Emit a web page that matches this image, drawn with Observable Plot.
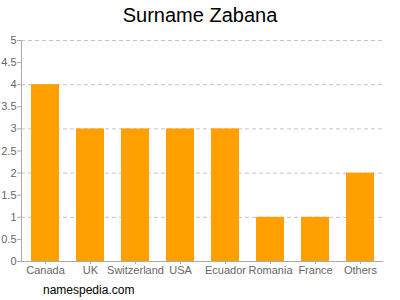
<!DOCTYPE html>
<html>
<head>
<meta charset="utf-8">
<script src="https://cdn.jsdelivr.net/npm/d3@7"></script>
<script src="https://cdn.jsdelivr.net/npm/@observablehq/plot@0.6"></script>
<style>
  html, body { margin: 0; padding: 0; background: #fff; width: 400px; height: 300px; overflow: hidden; }
  body { font-family: "Liberation Sans", Arial, sans-serif; }
  #title { height: 30px; line-height: 30px; text-align: center; font-size: 20px; color: #000; }
  #caption { height: 19px; line-height: 19px; padding-left: 43px; font-size: 12px; color: #000; }
  svg { display: block; }
</style>
</head>
<body>
<div id="title">Surname Zabana</div>
<div id="chart"></div>
<div id="caption">namespedia.com</div>
<script>
const countries = ["Canada", "UK", "Switzerland", "USA", "Ecuador", "Romania", "France", "Others"];
const counts = [4, 3, 3, 3, 3, 1, 1, 2];
const yTicks = [0, 0.5, 1, 1.5, 2, 2.5, 3, 3.5, 4, 4.5, 5];
const gridValues = [1, 2, 3, 4, 5];

const data = countries.map((c, i) => ({country: c, value: counts[i]}));

const marks = [
  Plot.ruleY(gridValues, {stroke: "#c4c4c4", strokeDasharray: "4,3"}),
  Plot.barY(data, {x: "country", y: "value", fill: "#FFA000"}),
  Plot.ruleY([0], {stroke: "#aaa"}),
  Plot.axisY({ticks: yTicks, tickSize: 4, tickPadding: 1, fontSize: 11, fill: "#666", stroke: "#aaa", tickFormat: d => String(d), label: null}),
  Plot.axisX({tickSize: 3, tickPadding: 2, fontSize: 11, fill: "#666", stroke: "#aaa", label: null})
];
try { marks.push(Plot.frame({anchor: "left", stroke: "#aaa"})); } catch (e) {}

const chart = Plot.plot({
  width: 400,
  height: 251,
  marginLeft: 21,
  marginRight: 17,
  marginTop: 10,
  marginBottom: 20,
  style: {fontFamily: "'Liberation Sans', Arial, sans-serif", background: "#fff"},
  x: {domain: countries, paddingInner: 0.38, paddingOuter: 0.2, label: null},
  y: {domain: [0, 5], label: null},
  marks
});
document.getElementById("chart").appendChild(chart);
</script>
</body>
</html>
